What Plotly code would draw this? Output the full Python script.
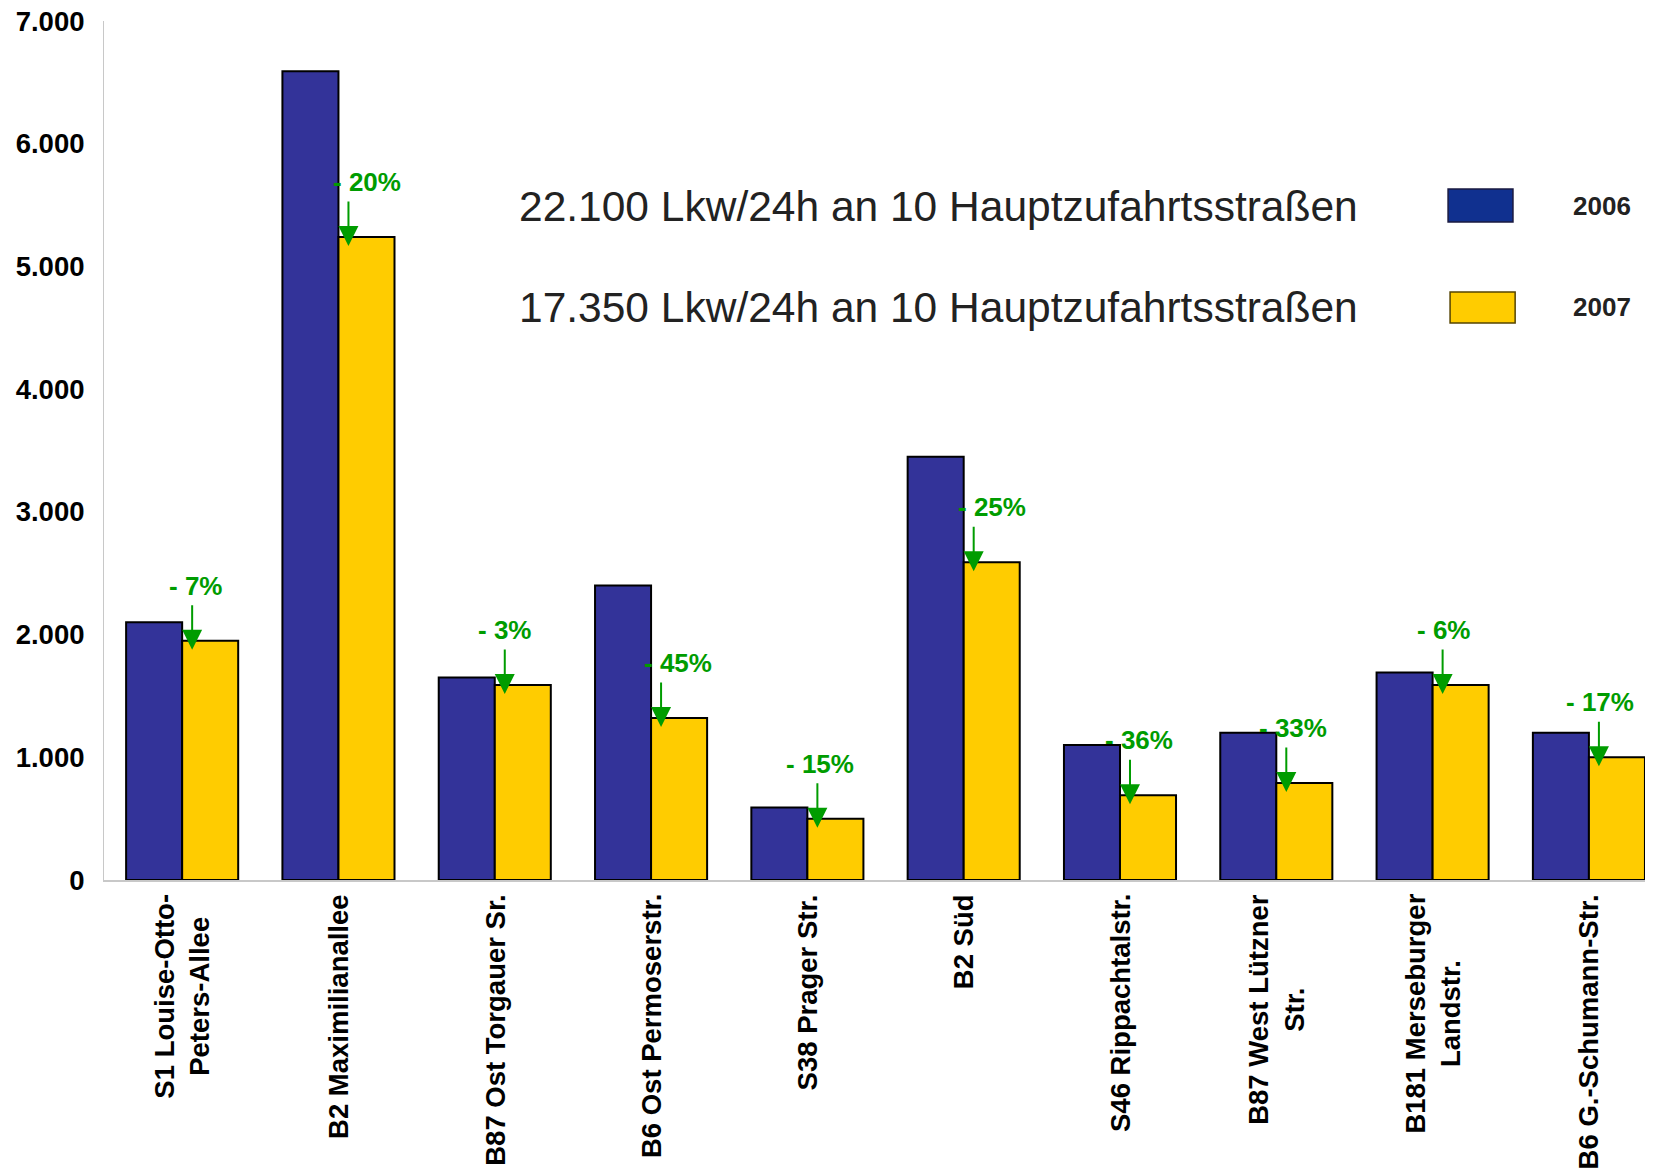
import plotly.graph_objects as go

categories = ["S1 Louise-Otto-<br>Peters-Allee", "B2 Maximilianallee", "B87 Ost Torgauer Sr.",
              "B6 Ost Permoserstr.", "S38 Prager Str.", "B2 Süd", "S46 Rippachtalstr.",
              "B87 West Lützner<br>Str.", "B181 Merseburger<br>Landstr.", "B6 G.-Schumann-Str."]
values_2006 = [2100, 6590, 1650, 2400, 590, 3450, 1100, 1200, 1690, 1200]
values_2007 = [1950, 5240, 1590, 1320, 500, 2590, 690, 790, 1590, 1000]
change_labels = ["- 7%", "- 20%", "- 3%", "- 45%", "- 15%", "- 25%", "- 36%", "- 33%", "- 6%", "- 17%"]
series_names = ["2006", "2007"]
totals_text = ["22.100 Lkw/24h an 10 Hauptzufahrtsstraßen", "17.350 Lkw/24h an 10 Hauptzufahrtsstraßen"]
y_ticks = [0, 1000, 2000, 3000, 4000, 5000, 6000, 7000]

# label horizontal nudges (px) relative to arrow
label_dx = [3, 19, 0, 17, 3, 18, 9, 7, 1, 1]

BLUE = "#333399"
YELLOW = "#FFCC00"
GREEN = "#009C00"
FONT = "Liberation Sans, Arial, sans-serif"

x = list(range(len(categories)))

fig = go.Figure()
fig.add_trace(go.Bar(x=x, y=values_2006, name=series_names[0], marker=dict(color=BLUE, line=dict(color="black", width=2))))
fig.add_trace(go.Bar(x=x, y=values_2007, name=series_names[1], marker=dict(color=YELLOW, line=dict(color="black", width=2))))

annotations = []
for i, (v, lab) in enumerate(zip(values_2007, change_labels)):
    annotations.append(dict(x=i, y=v, xref="x", yref="y", xshift=10, yshift=-9, text="", showarrow=True,
                            ax=0, ay=-46, axref="pixel", ayref="pixel",
                            arrowhead=2, arrowsize=2, arrowwidth=2, arrowcolor=GREEN, standoff=0))
    annotations.append(dict(x=i, y=v, xref="x", yref="y", xshift=10 + label_dx[i], yshift=55,
                            text=lab, showarrow=False, xanchor="center", yanchor="middle",
                            font=dict(family=FONT, size=26, color=GREEN, weight="bold")))

# category labels (rotated, centred lines)
for i, cat in enumerate(categories):
    annotations.append(dict(x=i, y=0, xref="x", yref="paper", yshift=-12, text=cat, showarrow=False,
                            textangle=-90, xanchor="center", yanchor="top", align="center",
                            font=dict(family=FONT, size=27.5, color="black", weight="bold")))

# big summary text
for txt, yp in zip(totals_text, [0.7835, 0.667]):
    annotations.append(dict(x=0.2666, y=yp, xref="paper", yref="paper", text=txt, showarrow=False,
                            xanchor="left", yanchor="middle",
                            font=dict(family=FONT, size=42.5, color="#222222")))
# legend labels
for name, yp in zip(series_names, [0.7846, 0.667]):
    annotations.append(dict(x=0.967, y=yp, xref="paper", yref="paper", text=name, showarrow=False,
                            xanchor="center", yanchor="middle",
                            font=dict(family=FONT, size=26, color="#222222", weight="bold")))

shapes = [
    dict(type="rect", xref="paper", yref="paper", x0=0.8677, x1=0.9096, y0=0.766, y1=0.8044,
         fillcolor="#10308F", line=dict(color="#1a1a40", width=1.5)),
    dict(type="rect", xref="paper", yref="paper", x0=0.869, x1=0.911, y0=0.6484, y1=0.6845,
         fillcolor=YELLOW, line=dict(color="#554400", width=1.5)),
]

fig.update_layout(
    width=1653, height=1175,
    margin=dict(l=96, r=8, t=13, b=303, autoexpand=False),
    paper_bgcolor="white", plot_bgcolor="white",
    barmode="group", bargap=0.283, bargroupgap=0,
    showlegend=False,
    separators=",.",
    annotations=annotations,
    shapes=shapes,
    font=dict(family=FONT),
)
fig.update_xaxes(range=[-0.5, 9.41], tickmode="array", tickvals=x, showticklabels=False,
                 showline=True, linecolor="#C8C8C8", linewidth=2, showgrid=False, ticks="",
                 zeroline=False, automargin=False)
fig.update_yaxes(range=[0, 7000], tickmode="array", tickvals=y_ticks, tickformat=",d",
                 tickfont=dict(family=FONT, size=27.5, color="black", weight="bold"),
                 showline=True, linecolor="#C8C8C8", linewidth=1, showgrid=False, ticks="",
                 ticklabelstandoff=13, ticklabeloverflow="allow", zeroline=False, automargin=False)

fig.write_html("out.html")
